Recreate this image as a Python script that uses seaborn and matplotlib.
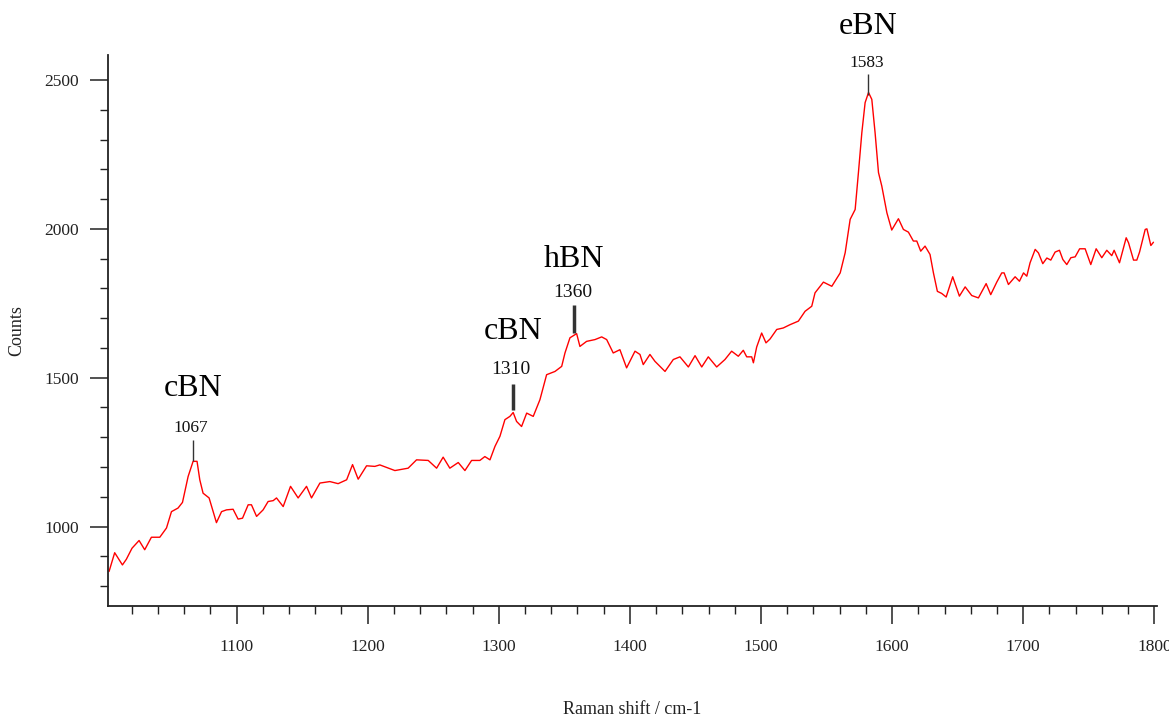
import numpy as np
import pandas as pd
import matplotlib
matplotlib.use("Agg")
import matplotlib.pyplot as plt
from matplotlib.ticker import MultipleLocator, FixedLocator
import seaborn as sns

# ---- data ----
raman_shift = [
    1002.8, 1007.1, 1013.0, 1016.0, 1020.3, 1025.7, 1030.0, 1035.1, 1041.5, 1046.6,
    1050.4, 1055.4, 1058.8, 1063.1, 1066.9, 1069.9, 1072.0, 1074.5, 1079.1, 1084.7,
    1088.6, 1092.4, 1097.4, 1101.2, 1104.6, 1108.9, 1111.4, 1115.3, 1120.3, 1124.1,
    1128.0, 1130.5, 1135.6, 1141.2, 1147.0, 1153.4, 1157.2, 1163.6, 1171.2, 1177.5,
    1184.0, 1188.5, 1192.8, 1199.2, 1205.5,
    1209.3, 1220.8, 1230.9, 1237.3, 1246.2, 1252.6, 1257.6, 1262.7, 1269.1, 1274.2,
    1279.3, 1285.6, 1289.4, 1293.3, 1297.1, 1300.9, 1304.7, 1308.5, 1311.0, 1313.6,
    1317.4, 1321.3, 1326.3, 1331.4, 1336.5, 1342.9, 1348.0, 1350.5, 1354.3, 1359.4,
    1361.9, 1367.0, 1373.4, 1378.5, 1382.3, 1387.3, 1392.4, 1397.5, 1403.9,
    1407.7, 1410.2, 1415.3, 1419.1, 1426.8, 1433.1, 1438.2, 1444.6, 1449.7, 1454.8,
    1459.8, 1466.2, 1472.5, 1477.6, 1482.7, 1486.5, 1489.1, 1492.9, 1494.2, 1496.7,
    1500.5, 1503.8, 1506.9, 1512.0, 1517.0, 1522.1, 1528.5, 1533.6, 1538.7,
    1541.2, 1547.6, 1554.0, 1560.4, 1564.2, 1568.0, 1571.8, 1574.3, 1576.9, 1579.4,
    1582.0, 1584.5, 1587.0, 1589.6, 1592.1, 1596.0,
    1599.7, 1604.8, 1608.6, 1612.4, 1616.2, 1618.8, 1621.8, 1625.1, 1628.9, 1631.5,
    1634.5, 1637.8, 1641.2, 1646.2, 1651.3, 1655.7, 1660.7, 1665.8, 1671.7, 1675.2,
    1679.8, 1683.6, 1685.4, 1688.7, 1693.8, 1697.1, 1700.2, 1702.7, 1705.2, 1709.1,
    1711.6, 1714.9, 1718.0, 1721.0, 1724.3, 1727.6, 1730.2, 1733.2, 1736.3, 1739.6,
    1743.0, 1747.2, 1751.5, 1755.6, 1759.9, 1763.7, 1767.5, 1769.3, 1773.4, 1778.5,
    1780.3, 1784.1, 1786.6, 1788.7, 1793.0, 1794.3, 1797.3, 1799.3,
]
counts = [
    849, 912, 871, 890, 927, 953, 922, 964, 964, 995,
    1050, 1062, 1081, 1168, 1219, 1219, 1157, 1112, 1096, 1013,
    1050, 1056, 1058, 1025, 1028, 1073, 1073, 1034, 1056, 1084,
    1087, 1096, 1067, 1135, 1096, 1135, 1096, 1146, 1151, 1144,
    1157, 1208, 1159, 1204, 1202,
    1207, 1188, 1196, 1224, 1222, 1196, 1233, 1196, 1215, 1188,
    1222, 1222, 1235, 1224, 1269, 1303, 1359, 1370, 1383, 1353,
    1336, 1381, 1370, 1426, 1510, 1521, 1538, 1583, 1634, 1648,
    1605, 1622, 1628, 1637, 1628, 1583, 1594, 1533, 1589,
    1578, 1544, 1578, 1555, 1521, 1561, 1570, 1536, 1574, 1536,
    1570, 1536, 1561, 1589, 1572, 1592, 1570, 1570, 1550, 1603,
    1650, 1617, 1630, 1662, 1667, 1678, 1690, 1723, 1740,
    1785, 1821, 1807, 1852, 1920, 2032, 2065, 2189, 2323, 2424,
    2458, 2435, 2323, 2189, 2144, 2054,
    1996, 2034, 1998, 1989, 1959, 1959, 1925, 1942, 1914, 1852,
    1790, 1783, 1771, 1839, 1774, 1805, 1776, 1768, 1816, 1779,
    1821, 1852, 1852, 1813, 1839, 1824, 1852, 1841, 1886, 1931,
    1919, 1883, 1902, 1895, 1922, 1928, 1897, 1880, 1903, 1906,
    1933, 1933, 1880, 1933, 1903, 1928, 1910, 1928, 1886, 1970,
    1953, 1895, 1895, 1922, 1998, 2000, 1944, 1955,
]

peak_names = ["cBN", "cBN", "hBN", "eBN"]
peak_labels = ["1067", "1310", "1360", "1583"]
x_ticks = [1100, 1200, 1300, 1400, 1500, 1600, 1700, 1800]
y_ticks = [1000, 1500, 2000, 2500]

df = pd.DataFrame({"shift": raman_shift, "counts": counts})

sns.set_style("ticks")
plt.rcParams["font.family"] = ["Liberation Serif", "DejaVu Serif"]

fig = plt.figure(figsize=(11.69, 7.17), dpi=100)
ax = fig.add_axes([108 / 1169, 1 - 606 / 717, (1157 - 108) / 1169, (606 - 55) / 717])

sns.lineplot(data=df, x="shift", y="counts", ax=ax, color="#ff0000", linewidth=1.0)

ax.set_xlim(1002, 1802)
ax.set_ylim(733, 2584)
sns.despine(ax=ax)
for s in ("left", "bottom"):
    ax.spines[s].set_color("#222222")
    ax.spines[s].set_linewidth(1.3)

ax.xaxis.set_major_locator(FixedLocator(x_ticks))
ax.xaxis.set_minor_locator(MultipleLocator(20))
ax.yaxis.set_major_locator(FixedLocator(y_ticks))
ax.yaxis.set_minor_locator(MultipleLocator(100))
ax.tick_params(which="major", length=13, width=1.1, color="#222222",
               labelsize=12.5, labelcolor="#222222", direction="out")
ax.tick_params(which="minor", length=5.8, width=1.0, color="#222222", direction="out")
ax.tick_params(axis="x", which="major", pad=11)
ax.tick_params(axis="y", which="major", pad=8)

ax.set_xlabel("Raman shift / cm-1", fontsize=13, color="#222222", labelpad=33)
ax.set_ylabel("Counts", fontsize=13, color="#222222", labelpad=14)

# peak annotations
# (x, line y0, line y1, line width, number baseline y, number size, name baseline y)
ann = [
    (1067.0, 1221, 1292, 1.0, 1316, 12.5, 1437),
    (1310.6, 1392, 1480, 2.5, 1514, 14, 1630),
    (1357.6, 1650, 1745, 2.5, 1772, 14, 1872),
    (1581.9, 2450, 2519, 1.0, 2543, 12.5, 2654),
]
for (xp, y0, y1, lw, ynum, fs, yname), name, lab in zip(ann, peak_names, peak_labels):
    ax.plot([xp, xp], [y0, y1], color="#333333", linewidth=lw, clip_on=False,
            solid_capstyle="butt")
    ax.text(xp - 1.5, ynum, lab, ha="center", va="baseline", fontsize=fs,
            color="#111111", clip_on=False)
    ax.text(xp, yname, name, ha="center", va="baseline", fontsize=23,
            color="#000000", clip_on=False)

fig.savefig("out.png", dpi=100)
